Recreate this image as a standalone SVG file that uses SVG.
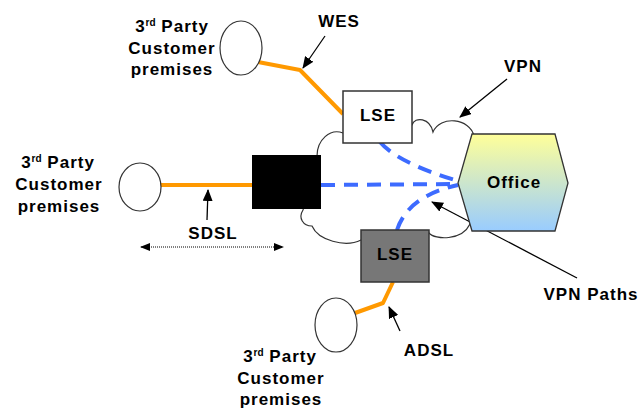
<svg xmlns="http://www.w3.org/2000/svg" width="643" height="410" viewBox="0 0 643 410">
<style>
text{font-family:"Liberation Sans",Arial,sans-serif;font-weight:bold;font-size:17px;letter-spacing:1px;fill:#000;text-anchor:middle}
.sup{font-size:10px;letter-spacing:0}
.ell{fill:#fff;stroke:#333;stroke-width:1.2}
.box{stroke:#333;stroke-width:1.5}
.orange{fill:none;stroke:#FF9900;stroke-width:4;stroke-linejoin:round}
.vpn{fill:none;stroke:#3D6BFF;stroke-width:4;stroke-dasharray:14,9}
.ptr{fill:none;stroke:#000;stroke-width:1.3;marker-end:url(#ah)}
</style>
<defs>
<marker id="ah" markerWidth="12" markerHeight="10" refX="11" refY="5" orient="auto" markerUnits="userSpaceOnUse">
<path d="M0,0 L12,5 L0,10 Z" fill="#000"/>
</marker>
<marker id="ds" markerWidth="10" markerHeight="8" refX="9" refY="4" orient="auto-start-reverse" markerUnits="userSpaceOnUse">
<path d="M0,0 L10,4 L0,8 Z" fill="#000"/>
</marker>
<linearGradient id="og" x1="0" y1="0" x2="0" y2="1">
<stop offset="0" stop-color="#FFFF99"/>
<stop offset="1" stop-color="#99CCFF"/>
</linearGradient>
</defs>

<g id="vpn-cloud">
<path d="M343,133 C330,128 317,140 317,156 L303,210 C298,218 303,226 312,226 C318,240 345,248 361,240 L429,233 C435,240 462,241 470,224 L474,136 C470,118 440,115 433,132 C430,118 415,116 412,125 Z" fill="#fff" stroke="#333" stroke-width="1.2"/>
</g>

<g id="connectors">
<path class="orange" d="M258,62 L300,70 L343,114"/>
<path class="orange" d="M160,185 L252,185"/>
<path class="orange" d="M355,313 L383,303 L393,282"/>
<path class="vpn" d="M380,142 Q398,163 458,181"/>
<path class="vpn" d="M321,185 L458,184"/>
<path class="vpn" d="M397,230 Q408,196 458,185"/>
<path class="ptr" d="M325,36 L303,68"/>
<path class="ptr" d="M507,79 L460,117"/>
<path class="ptr" d="M207,220 L208,190"/>
<path class="ptr" d="M400,331 L389,307"/>
<path class="ptr" d="M577,278 L432,202"/>
<path d="M141,247 L283,247" fill="none" stroke="#000" stroke-width="1" stroke-dasharray="1,1" marker-start="url(#ds)" marker-end="url(#ds)"/>
</g>

<g id="cust-top">
<ellipse class="ell" cx="241" cy="48" rx="21" ry="27"/>
<text x="172" y="32">3<tspan class="sup" dy="-6">rd</tspan><tspan dy="6"> Party</tspan></text>
<text x="172" y="54">Customer</text>
<text x="172" y="75">premises</text>
</g>

<g id="cust-left">
<ellipse class="ell" cx="140" cy="187" rx="21" ry="24"/>
<text x="58" y="168">3<tspan class="sup" dy="-6">rd</tspan><tspan dy="6"> Party</tspan></text>
<text x="59" y="190">Customer</text>
<text x="59" y="212">premises</text>
</g>

<g id="cust-bottom">
<ellipse class="ell" cx="336" cy="325" rx="21" ry="27"/>
<text x="280" y="362">3<tspan class="sup" dy="-6">rd</tspan><tspan dy="6"> Party</tspan></text>
<text x="281" y="384">Customer</text>
<text x="281" y="405">premises</text>
</g>

<g id="lse-top">
<rect class="box" x="343" y="91" width="69" height="52" fill="#fff"/>
<text x="378" y="121">LSE</text>
</g>

<g id="sdsl-box">
<rect x="252" y="155" width="69" height="54" fill="#000"/>
</g>

<g id="lse-bottom">
<rect class="box" x="361" y="230" width="68" height="52" fill="#777"/>
<text x="395" y="260">LSE</text>
</g>

<g id="office">
<path d="M472,134 L555,134 L568,183 L555,231 L472,231 L458,183 Z" fill="url(#og)" stroke="#333" stroke-width="1.3"/>
<text x="514" y="188">Office</text>
</g>

<g id="labels">
<text x="339" y="27">WES</text>
<text x="523" y="72">VPN</text>
<text x="213" y="239">SDSL</text>
<text x="429" y="356">ADSL</text>
<text x="591" y="300">VPN Paths</text>
</g>
</svg>
